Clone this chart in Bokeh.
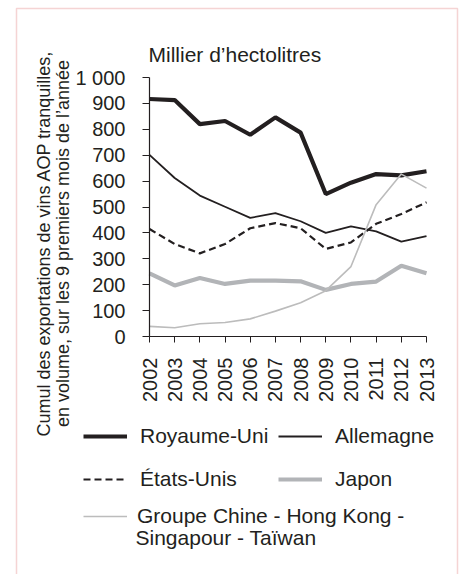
import math
from bokeh.plotting import figure
from bokeh.models import (Range1d, FixedTicker, Legend, LegendItem, Label, BoxAnnotation)
from bokeh.embed import file_html
from bokeh.resources import INLINE

# ---- data (thousand hectolitres) ----
years = [2002, 2003, 2004, 2005, 2006, 2007, 2008, 2009, 2010, 2011, 2012, 2013]
royaume_uni = [917, 913, 820, 832, 779, 846, 787, 550, 594, 627, 622, 638]
allemagne = [701, 612, 544, 501, 458, 476, 445, 400, 425, 406, 366, 388]
etats_unis = [415, 357, 321, 357, 418, 438, 418, 338, 363, 435, 473, 518]
japon = [244, 197, 226, 203, 216, 216, 213, 180, 203, 212, 273, 244]
chine_groupe = [39, 34, 49, 54, 68, 98, 130, 177, 270, 509, 627, 573]
y_ticks = [0, 100, 200, 300, 400, 500, 600, 700, 800, 900, 1000]
y_tick_overrides = {1000: "1 000"}

title_text = "Millier d\u2019hectolitres"
ylabel_line1 = "Cumul des exportations de vins AOP tranquilles,"
ylabel_line2 = "en volume, sur les 9 premiers mois de l\u2019ann\u00e9e"
legend_labels = ["Royaume-Uni", "Allemagne", "\u00c9tats-Unis", "Japon",
                 "Groupe Chine - Hong Kong -", "Singapour - Ta\u00efwan"]

FONT = "Liberation Sans"
TXT = "#231f20"
BLACK = "#231f20"
GRAY_THICK = "#b2b4b7"
GRAY_THIN = "#bcbcbc"
RED = "#df6f6f"

# ---- layout (pixels; canvas = frame, y measured from the bottom) ----
W, H = 462, 574
PLOT_L, PLOT_R = 149, 426      # x pixel of first / last year
PLOT_B, PLOT_T = 238, 497      # y pixel of 0 / 1000
x_first, x_last = years[0], years[-1]
y_lo, y_hi = y_ticks[0], y_ticks[-1]
ppx = (PLOT_R - PLOT_L) / (x_last - x_first)
ppy = (PLOT_T - PLOT_B) / (y_hi - y_lo)
x_range = Range1d(x_first - PLOT_L / ppx, x_last + (W - PLOT_R) / ppx)
y_range = Range1d(y_lo - PLOT_B / ppy, y_hi + (H - PLOT_T) / ppy)

p = figure(width=W, height=H, output_backend="svg", toolbar_location=None,
           x_range=x_range, y_range=y_range, title=None,
           min_border_left=0, min_border_right=0, min_border_top=0, min_border_bottom=0)
p.outline_line_color = None
p.xgrid.visible = False
p.ygrid.visible = False
p.background_fill_color = "white"
p.border_fill_color = "white"

# red frame box around the figure (open at the bottom, beyond the view)
p.add_layout(BoxAnnotation(left=16, right=457, top=H - 8, bottom=-20,
                           left_units="screen", right_units="screen",
                           top_units="screen", bottom_units="screen",
                           fill_color=None, fill_alpha=0,
                           line_color=RED, line_width=1.5, level="underlay"))

r_uk = p.line(years, royaume_uni, line_color=BLACK, line_width=4.2)
r_de = p.line(years, allemagne, line_color=BLACK, line_width=1.8)
r_us = p.line(years, etats_unis, line_color=BLACK, line_width=2.2, line_dash="7 4")
r_jp = p.line(years, japon, line_color=GRAY_THICK, line_width=4.2)
r_cn = p.line(years, chine_groupe, line_color=GRAY_THIN, line_width=1.6)

xa = p.xaxis[0]
xa.fixed_location = y_lo
xa.bounds = (x_first, x_last)
xa.ticker = FixedTicker(ticks=years)
xa.major_label_orientation = math.pi / 2
xa.major_tick_out = 6
xa.major_tick_in = 0
xa.minor_tick_out = 0
xa.minor_tick_in = 0
xa.major_label_standoff = 15
xa.axis_line_color = BLACK
xa.major_tick_line_color = BLACK
xa.axis_line_width = 1.2
xa.major_label_text_font = FONT
xa.major_label_text_font_size = "20px"
xa.major_label_text_color = TXT

ya = p.yaxis[0]
ya.fixed_location = x_first
ya.bounds = (y_lo, y_hi)
ya.ticker = FixedTicker(ticks=y_ticks)
ya.major_label_overrides = y_tick_overrides
ya.major_tick_out = 7
ya.major_tick_in = 0
ya.minor_tick_out = 0
ya.minor_tick_in = 0
ya.major_label_standoff = 17
ya.axis_line_color = BLACK
ya.major_tick_line_color = BLACK
ya.axis_line_width = 1.2
ya.major_label_text_font = FONT
ya.major_label_text_font_size = "20px"
ya.major_label_text_color = TXT

# title and two-line y label
p.add_layout(Label(x=148, y=H - 54, x_units="screen", y_units="screen", text=title_text,
                   text_font=FONT, text_font_size="21px", text_color=TXT,
                   text_baseline="middle", text_align="left"))
for txt, xs in ((ylabel_line1, 43), (ylabel_line2, 62)):
    p.add_layout(Label(x=xs, y=H - 243, x_units="screen", y_units="screen", text=txt,
                       angle=math.pi / 2, text_font=FONT, text_font_size="18px",
                       text_color=TXT, text_baseline="middle", text_align="center"))


def make_legend(items, loc, standoff):
    return Legend(items=items, location=loc, orientation="vertical",
                  glyph_width=44, glyph_height=20, label_height=20, spacing=19,
                  label_standoff=standoff, padding=0, margin=0,
                  border_line_color=None, background_fill_alpha=0,
                  label_text_font=FONT, label_text_font_size="21px",
                  label_text_color=TXT, label_text_baseline="alphabetic")


p.add_layout(make_legend([LegendItem(label=legend_labels[0], renderers=[r_uk]),
                          LegendItem(label=legend_labels[2], renderers=[r_us])],
                         (83, H - 491), 13))
p.add_layout(make_legend([LegendItem(label=legend_labels[1], renderers=[r_de]),
                          LegendItem(label=legend_labels[3], renderers=[r_jp])],
                         (278, H - 491), 13))
p.add_layout(make_legend([LegendItem(label=legend_labels[4], renderers=[r_cn])],
                         (83, H - 528), 10))
p.add_layout(Label(x=135, y=H - 537, x_units="screen", y_units="screen", text=legend_labels[5],
                   text_font=FONT, text_font_size="21px", text_color=TXT,
                   text_baseline="middle", text_align="left"))

open("out.html", "w").write(file_html(p, INLINE))
